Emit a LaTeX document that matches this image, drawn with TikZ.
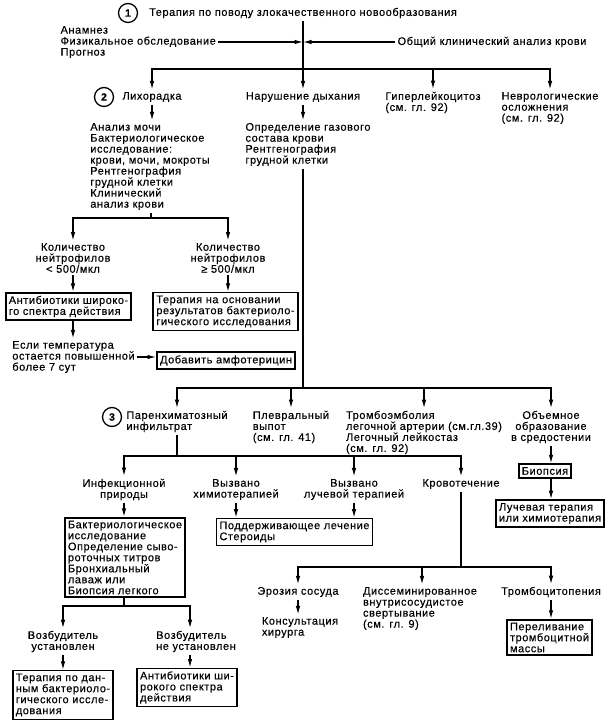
\documentclass[tikz,border=0pt]{standalone}
\usepackage{fontspec}
\setmainfont[LetterSpace=5, FakeBold=0.3]{Liberation Sans}
\usetikzlibrary{arrows.meta}

\begin{document}
\begin{tikzpicture}[x=1pt, y=-1pt, line width=1.2pt,
		every node/.style={font=\fontsize{11}{11}\selectfont, inner sep=2pt},
		txt/.style={align=left},
		ctr/.style={align=center},
		box/.style={draw, line width=1.7pt, align=left, inner sep=3pt},
		num/.style={circle, draw, line width=1.3pt, inner sep=0pt, minimum size=19pt, font=\fontsize{10.5}{11}\selectfont\bfseries},
		arr/.style={-{Latex[length=8.5pt,width=4.5pt]}}]
		\useasboundingbox (0,0) rectangle (612,728);
		\node[num] at (128,13) (n1){1};
		\node at (303,13) (top){Терапия по поводу злокачественного новообразования};
		\node[txt, anchor=west] at (58,42) (anam){Анамнез\\Физикальное обследование\\Прогноз};
		\node[anchor=west] at (395,42) (oak){Общий клинический анализ крови};
		\coordinate (c0) at (303,42);
		\coordinate (b0) at (303,69);
		\draw (top.south) -- (b0);
		\draw[arr] (anam.east) -- (c0);
		\draw[arr] (oak.west) -- (c0);
		\node at (152,97) (fev){Лихорадка};
		\node[num] at (104,97) (n2){2};
		\node at (303,97) (dys){Нарушение дыхания};
		\node[txt] at (433,102.5) (hyp){Гиперлейкоцитоз\\(см. гл. 92)};
		\node[txt] at (550,108) (nevr){Неврологические\\осложнения\\(см. гл. 92)};
		\draw[arr] (b0) -| (fev.north);
		\draw[arr] (b0) -- (dys.north);
		\draw[arr] (b0) -| (hyp.north);
		\draw[arr] (b0) -| (nevr.north);
		\node[txt] at (150,166.5) (anal){Анализ мочи\\Бактериологическое\\исследование:\\крови, мочи, мокроты\\Рентгенография\\грудной клетки\\Клинический\\анализ крови};
		\draw[arr] (fev.south) -- (fev.south |- anal.north);
		\coordinate (b1) at (151,218);
		\draw (b1 |- anal.south) -- (b1);
		\node[ctr] at (73,258) (nl){Количество\\нейтрофилов\\< 500/мкл};
		\node[ctr] at (228,258) (nh){Количество\\нейтрофилов\\≥ 500/мкл};
		\draw[arr] (b1) -| (nl.north);
		\draw[arr] (b1) -| (nh.north);
		\node[box] at (68.5,306.5) (ab1){Антибиотики широко-\\го спектра действия};
		\node[box] at (225.5,311.5) (bt1){Терапия на основании\\результатов бактериоло-\\гического исследования};
		\draw[arr] (nl.south) -- (nl.south |- ab1.north);
		\draw[arr] (nh.south) -- (nh.south |- bt1.north);
		\node[txt] at (73.5,357) (temp){Если температура\\остается повышенной\\более 7 сут};
		\draw[arr] (nl.south |- ab1.south) -- (nl.south |- temp.north);
		\node[box] at (226,360.5) (amf){Добавить амфотерицин};
		\draw[arr] (temp.east) -- (temp.east -| amf.west);
		\node[txt] at (308,144.5) (gas){Определение газового\\состава крови\\Рентгенография\\грудной клетки};
		\draw[arr] (dys.south) -- (dys.south |- gas.north);
		\coordinate (b2) at (303,388);
		\draw (b2 |- gas.south) -- (b2);
		\node[num] at (112,417) (n3){3};
		\node[txt] at (177,421.5) (par){Паренхиматозный\\инфильтрат};
		\node[txt] at (291,427) (plev){Плевральный\\выпот\\(см. гл. 41)};
		\node[txt] at (424,432.5) (tela){Тромбоэмболия\\легочной артерии (см.гл.39)\\Легочный лейкостаз\\(см. гл. 92)};
		\node[ctr] at (551,427) (med){Объемное\\образование\\в средостении};
		\draw[arr] (b2) -| (par.north);
		\draw[arr] (b2) -| (plev.north);
		\draw[arr] (b2) -| (tela.north);
		\draw[arr] (b2) -| (med.north);
		\node[box] at (545,471) (bio){Биопсия};
		\node[box] at (550,513.5) (luch){Лучевая терапия\\или химиотерапия};
		\draw[arr] (med.south) -- (med.south |- bio.north);
		\draw[arr] (med.south |- bio.south) -- (med.south |- luch.north);
		\coordinate (b3) at (177,456);
		\draw (par.south) -- (b3);
		\node[ctr] at (124,489.5) (inf){Инфекционной\\природы};
		\node[ctr] at (236,489.5) (him){Вызвано\\химиотерапией};
		\node[ctr] at (354,489.5) (luc){Вызвано\\лучевой терапией};
		\node at (461,484) (krov){Кровотечение};
		\draw[arr] (b3) -| (inf.north);
		\draw[arr] (b3) -| (him.north);
		\draw[arr] (b3) -| (luc.north);
		\draw[arr] (b3) -| (krov.north);
		\node[box] at (294.5,532) (ster){Поддерживающее лечение\\Стероиды};
		\draw[arr] (him.south) -- (him.south |- ster.north);
		\draw[arr] (luc.south) -- (luc.south |- ster.north);
		\node[box] at (125,557.5) (bakt){Бактериологическое\\исследование\\Определение сыво-\\роточных титров\\Бронхиальный\\лаваж или\\Биопсия легкого};
		\draw[arr] (inf.south) -- (inf.south |- bakt.north);
		\coordinate (b4) at (124,606);
		\coordinate (c4) at (190,606);
		\draw (b4 |- bakt.south) -- (b4);
		\node[ctr] at (63,641.5) (voz1){Возбудитель\\установлен};
		\node[txt] at (196,641.5) (voz2){Возбудитель\\не установлен};
		\draw[arr] (b4) -| (voz1.north);
		\draw[arr] (b4) -- (c4) -- (c4 |- voz2.north);
		\node[box] at (63,695) (ter){Терапия по дан-\\ным бактериоло-\\гического иссле-\\дования};
		\node[box] at (187,687.5) (ab2){Антибиотики ши-\\рокого спектра\\действия};
		\draw[arr] (voz1.south) -- (voz1.south |- ter.north);
		\draw[arr] (c4 |- voz2.south) -- (c4 |- ab2.north);
		\coordinate (b5) at (461,567);
		\coordinate (c5) at (422,567);
		\draw (krov.south) -- (b5);
		\node at (298,592) (eroz){Эрозия сосуда};
		\node[txt] at (300,627.5) (hir){Консультация\\хирурга};
		\node[txt] at (420,608.5) (dvs){Диссеминированное\\внутрисосудистое\\свертывание\\(см. гл. 9)};
		\node at (551,592) (trc){Тромбоцитопения};
		\node[box] at (549.5,637.5) (per){Переливание\\тромбоцитной\\массы};
		\draw[arr] (b5) -| (eroz.north);
		\draw[arr] (c5) -- (c5 |- dvs.north);
		\draw[arr] (b5) -| (trc.north);
		\draw[arr] (eroz.south) -- (eroz.south |- hir.north);
		\draw[arr] (trc.south) -- (trc.south |- per.north);
	\end{tikzpicture}
\end{document}
